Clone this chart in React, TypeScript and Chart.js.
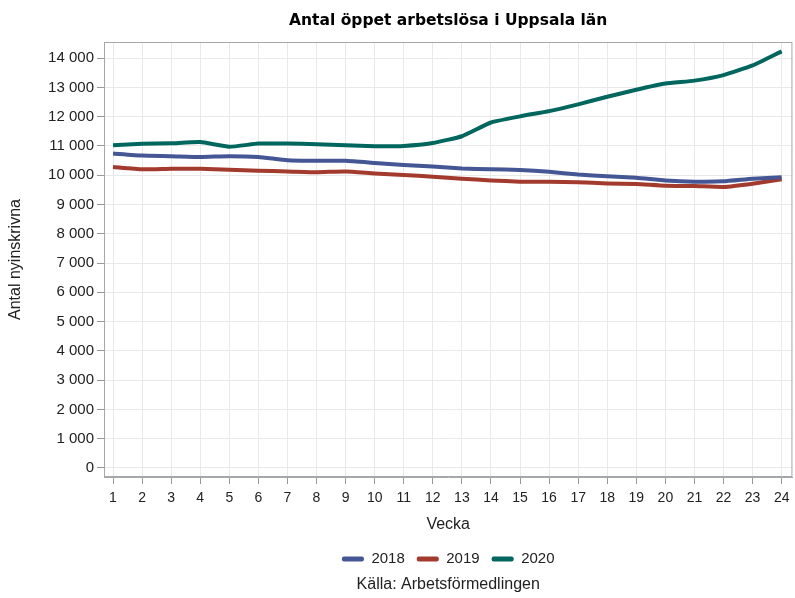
import React, { useEffect, useRef } from 'react';
import { Chart, registerables } from 'chart.js';

Chart.register(...registerables);

const weeks = [1, 2, 3, 4, 5, 6, 7, 8, 9, 10, 11, 12, 13, 14, 15, 16, 17, 18, 19, 20, 21, 22, 23, 24];
const seriesLabels = ['2018', '2019', '2020'];
const values2018 = [10740, 10670, 10650, 10620, 10650, 10620, 10510, 10490, 10490, 10420, 10350, 10300, 10230, 10200, 10180, 10120, 10020, 9960, 9910, 9820, 9780, 9790, 9880, 9930];
const values2019 = [10280, 10200, 10220, 10220, 10190, 10150, 10130, 10100, 10130, 10060, 10010, 9950, 9880, 9820, 9780, 9780, 9760, 9720, 9700, 9640, 9630, 9600, 9710, 9860];
const values2020 = [11020, 11070, 11090, 11130, 10970, 11080, 11080, 11060, 11020, 10990, 11000, 11100, 11330, 11800, 12010, 12190, 12420, 12680, 12920, 13130, 13230, 13420, 13750, 14230];
const yTickValues = [0, 1000, 2000, 3000, 4000, 5000, 6000, 7000, 8000, 9000, 10000, 11000, 12000, 13000, 14000];
const seriesColors = ['#445694', '#A23A2E', '#01665E'];

const FONT = '"Liberation Sans", Arial, sans-serif';
const TITLE_FONT = '"DejaVu Sans", Verdana, sans-serif';

export default function App() {
  const ref = useRef<HTMLCanvasElement>(null);

  useEffect(() => {
    document.body.style.margin = '0';
    const seriesValues = [values2018, values2019, values2020];
    const framePlugin = {
      id: 'frame',
      afterDraw(chart: any) {
        const { ctx, chartArea } = chart;
        ctx.save();
        ctx.strokeStyle = '#a4a8ad';
        ctx.lineWidth = 1;
        ctx.strokeRect(chartArea.left + 0.5, chartArea.top + 0.5, chartArea.right - chartArea.left - 1, chartArea.bottom - chartArea.top - 1);
        ctx.restore();
      },
    };
    const chart = new Chart(ref.current as HTMLCanvasElement, {
      type: 'line',
      data: {
        datasets: seriesLabels.map((label, i) => ({
          label,
          data: weeks.map((w, j) => ({ x: w, y: seriesValues[i][j] })),
          borderColor: seriesColors[i],
          backgroundColor: seriesColors[i],
          borderWidth: 4,
          pointRadius: 0,
          tension: 0.15,
          fill: false,
        })),
      },
      options: {
        responsive: false,
        animation: false,
        layout: { padding: { left: 0, right: 2, top: 0, bottom: 0 } },
        plugins: {
          title: {
            display: true,
            text: 'Antal öppet arbetslösa i Uppsala län',
            fullSize: false,
            color: '#000',
            font: { family: TITLE_FONT, size: 15.5, weight: 'bold' },
            padding: { top: 11.7, bottom: 11.7 },
          },
          subtitle: {
            display: true,
            position: 'bottom',
            text: 'Källa: Arbetsförmedlingen',
            fullSize: false,
            color: '#222',
            font: { family: FONT, size: 16, lineHeight: 1 },
            padding: { top: 0, bottom: 5.5 },
          },
          legend: {
            position: 'bottom',
            fullSize: false,
            labels: {
              boxWidth: 22,
              boxHeight: 5,
              useBorderRadius: true,
              borderRadius: 2,
              color: '#222',
              font: { family: FONT, size: 15 },
              padding: 12,
              generateLabels: (c: any) =>
                Chart.defaults.plugins.legend.labels.generateLabels(c).map((l: any) => ({ ...l, lineWidth: 0 })),
            },
          },
          tooltip: { enabled: false },
        },
        scales: {
          x: {
            type: 'linear',
            min: 0.69,
            max: 24.37,
            afterBuildTicks: (axis: any) => {
              axis.ticks = weeks.map((v) => ({ value: v }));
            },
            afterFit: (axis: any) => {
              axis.height = 62.5;
            },
            ticks: {
              color: '#222',
              font: { family: FONT, size: 14 },
              padding: 5.5,
              maxRotation: 0,
              autoSkip: false,
              callback: (v: any) => String(v),
            },
            grid: { color: '#e9e9e9', tickColor: '#9a9a9a', tickLength: 7 },
            border: { color: '#a4a8ad' },
            title: {
              display: true,
              text: 'Vecka',
              color: '#222',
              font: { family: FONT, size: 16 },
              padding: { top: 4, bottom: 5.4 },
            },
          },
          y: {
            type: 'linear',
            min: -310,
            max: 14550,
            afterBuildTicks: (axis: any) => {
              axis.ticks = yTickValues.map((v) => ({ value: v }));
            },
            afterFit: (axis: any) => {
              axis.width = 104;
            },
            ticks: {
              color: '#222',
              font: { family: FONT, size: 15 },
              padding: 3,
              callback: (v: any) => Number(v).toLocaleString('en-US').replace(/,/g, ' '),
            },
            grid: { color: '#e9e9e9', tickColor: '#9a9a9a', tickLength: 7 },
            border: { color: '#a4a8ad' },
            title: {
              display: true,
              text: 'Antal nyinskrivna',
              color: '#222',
              font: { family: FONT, size: 16 },
              padding: { top: 6, bottom: 4 },
            },
          },
        },
      },
      plugins: [framePlugin],
    } as any);
    return () => chart.destroy();
  }, []);

  return <canvas ref={ref} width={795} height={598} style={{ display: 'block' }} />;
}
